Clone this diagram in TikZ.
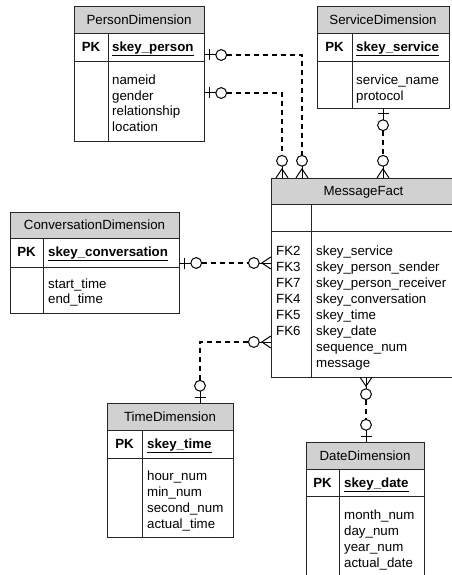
\documentclass[tikz,border=0pt]{standalone}
\usepackage{fontspec}
\setmainfont{Liberation Sans}
\newcommand\entbox[8]{% name, x1,y1,x2,y2, divider x, header bottom, pk bottom
  \path[hdr] (#2,#3) rectangle (#4,#7);
  \path[box] (#2,#7) rectangle (#4,#5);
  \draw[box] (#2,#8) -- (#4,#8);
  \draw[box] (#6,#7) -- (#6,#5);
  \node[inner sep=0pt, minimum width={(#4-#2)*1pt}, minimum height={(#5-#3)*1pt}] (#1) at ({(#2+#4)/2},{(#3+#5)/2}) {};
}
\newcommand\attrlist[4]{% x, first baseline, spacing, list
  \foreach \t [count=\i from 0] in {#4} \node[attr] at (#1,{#2+#3*\i}) {\t};
}
\begin{document}
\begin{tikzpicture}[x=1pt,y=-1pt,
  box/.style={draw=black!85, line width=0.9pt},
  hdr/.style={draw=black!85, line width=0.9pt, fill=black!18},
  ttl/.style={inner sep=0pt, anchor=base},
  attr/.style={inner sep=0pt, anchor=base west},
  pklbl/.style={inner sep=0pt, anchor=base},
  rel/.style={line width=1.3pt, dash pattern=on 5pt off 4pt},
  mk/.style={line width=1pt},
  onemark/.pic={\draw[mk] (0,0) -- (11.5,0); \draw[mk] (5,-5.5) -- (5,5.5); \draw[mk] (17,0) circle[radius=5.4];},
  manymark/.pic={\draw[mk] (0,-6) -- (9,0) -- (0,6); \draw[mk] (0,0) -- (11.5,0); \draw[mk] (17,0) circle[radius=5.4];},
  font=\fontsize{13.3}{15.8}\selectfont]
\useasboundingbox (0,0) rectangle (451,575);

% PersonDimension
\entbox{person}{74}{6.5}{204}{141}{108}{33}{61}
\node[ttl] (personT) at (139,24.5) {PersonDimension};
\node[pklbl] (personPK) at (91,51.5) {\textbf{PK}};
\node[attr] (personK) at (112,51.5) {\textbf{\underline{skey\_person}}};
\attrlist{112}{84.5}{15.7}{nameid,gender,relationship,location}

% ServiceDimension
\entbox{service}{317}{6.5}{449}{108}{352}{33}{61}
\node[ttl] (serviceT) at (383,24.5) {ServiceDimension};
\node[pklbl] (servicePK) at (334.5,51.5) {\textbf{PK}};
\node[attr] (serviceK) at (356,51.5) {\textbf{\underline{skey\_service}}};
\attrlist{356}{84.5}{15.7}{service\_name,protocol}

% MessageFact
\entbox{fact}{271}{178}{456}{377}{311}{204}{231}
\node[ttl] (factT) at (363.5,195.5) {MessageFact};
\attrlist{276}{255.2}{16}{FK2,FK3,FK7,FK4,FK5,FK6}
\attrlist{316}{255.2}{16}{skey\_service,skey\_person\_sender,skey\_person\_receiver,skey\_conversation,skey\_time,skey\_date,sequence\_num,message}

% ConversationDimension
\entbox{conv}{10}{212}{179}{313}{43}{238}{267}
\node[ttl] (convT) at (94.5,229.5) {ConversationDimension};
\node[pklbl] (convPK) at (26.5,256) {\textbf{PK}};
\node[attr] (convK) at (48,256) {\textbf{\underline{skey\_conversation}}};
\attrlist{48}{288.8}{15}{start\_time,end\_time}

% TimeDimension
\entbox{time}{107}{403}{233}{537}{142}{430}{458}
\node[ttl] (timeT) at (170,421) {TimeDimension};
\node[pklbl] (timePK) at (124.5,448) {\textbf{PK}};
\node[attr] (timeK) at (147,448) {\textbf{\underline{skey\_time}}};
\attrlist{147}{480.5}{16}{hour\_num,min\_num,second\_num,actual\_time}

% DateDimension
\entbox{date}{306}{442}{424}{580}{339}{469}{496}
\node[ttl] (dateT) at (365,460.5) {DateDimension};
\node[pklbl] (datePK) at (322.5,487) {\textbf{PK}};
\node[attr] (dateK) at (344,487) {\textbf{\underline{skey\_date}}};
\attrlist{344}{519.5}{15.9}{month\_num,day\_num,year\_num,actual\_date}

% connector end points
\coordinate (p1) at (person.east |- 0,55);
\coordinate (f1) at (302,0 |- fact.north);
\coordinate (p2) at (person.east |- 0,93);
\coordinate (f2) at (282,0 |- fact.north);
\coordinate (s3) at (383,0 |- service.south);
\coordinate (f3) at (383,0 |- fact.north);
\coordinate (c4) at (conv.east |- 0,263);
\coordinate (f4) at (fact.west |- 0,263);
\coordinate (f5) at (fact.west |- 0,342);
\coordinate (t5) at (200,0 |- time.north);
\coordinate (f6) at (366,0 |- fact.south);
\coordinate (d6) at (366,0 |- date.north);

% markers
\pic at (p1) {onemark};
\pic[rotate=90] at (f1) {manymark};
\pic at (p2) {onemark};
\pic[rotate=90] at (f2) {manymark};
\pic[rotate=270] at (s3) {onemark};
\pic[rotate=90] at (f3) {manymark};
\pic at (c4) {onemark};
\pic[rotate=180] at (f4) {manymark};
\pic[rotate=180] at (f5) {manymark};
\pic[rotate=90] at (t5) {onemark};
\pic[rotate=270] at (f6) {manymark};
\pic[rotate=90] at (d6) {onemark};

% dashed relationship lines
\draw[rel] ([xshift=22.4pt]p1) -| ([yshift=22.4pt]f1);
\draw[rel] ([xshift=22.4pt]p2) -| ([yshift=22.4pt]f2);
\draw[rel] ([yshift=-22.4pt]s3) -- ([yshift=22.4pt]f3);
\draw[rel] ([xshift=22.4pt]c4) -- ([xshift=-22.4pt]f4);
\draw[rel] ([xshift=-22.4pt]f5) -| ([yshift=22.4pt]t5);
\draw[rel] ([yshift=-22.4pt]f6) -- ([yshift=22.4pt]d6);
\end{tikzpicture}
\end{document}
